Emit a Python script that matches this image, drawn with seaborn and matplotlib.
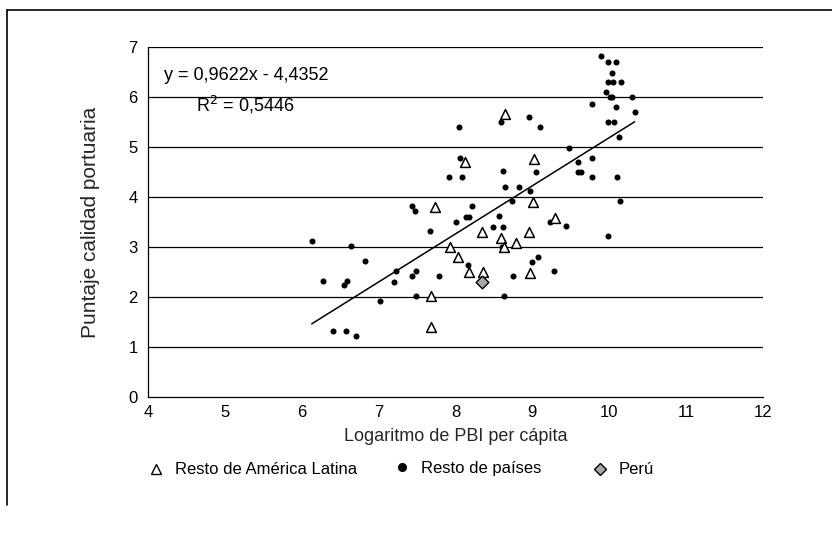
import matplotlib
matplotlib.use("Agg")
import numpy as np
import pandas as pd
import seaborn as sns
import matplotlib.pyplot as plt
from matplotlib.lines import Line2D
from matplotlib import font_manager

# --- data -------------------------------------------------------------
# Resto de países: (log PBI per cápita, puntaje)
resto_x = [7.91, 8.08, 7.43, 7.47, 8.21, 8.14, 8.18, 8.00, 7.67, 6.13,
           6.64, 6.82, 7.22, 7.48, 6.28, 6.59, 6.55, 7.20, 7.44, 7.79,
           8.16, 7.49, 7.02, 6.41, 6.57, 6.70,
           8.64, 8.82, 8.97, 8.74, 8.56, 8.49, 8.62, 9.23, 8.60, 8.75,
           9.00, 9.07, 9.28, 8.63,
           9.77, 8.59, 8.95, 9.10, 9.47, 9.59, 9.77, 9.59, 9.63, 9.77,
           8.62, 9.05, 9.44,
           9.89, 9.99, 10.09, 10.04, 9.99, 10.05, 10.15, 9.96, 10.01, 10.04,
           10.30, 10.09, 10.33, 9.99, 10.06, 10.13, 10.10, 10.14, 9.99,
           8.04, 8.06]
resto_y = [4.41, 4.41, 3.83, 3.73, 3.82, 3.61, 3.61, 3.51, 3.32, 3.12,
           3.03, 2.73, 2.52, 2.52, 2.33, 2.33, 2.24, 2.31, 2.43, 2.43,
           2.64, 2.03, 1.92, 1.33, 1.33, 1.22,
           4.21, 4.21, 4.12, 3.93, 3.62, 3.41, 3.41, 3.50, 3.01, 2.43,
           2.71, 2.81, 2.52, 2.02,
           5.87, 5.50, 5.61, 5.41, 4.99, 4.71, 4.78, 4.51, 4.51, 4.40,
           4.52, 4.51, 3.42,
           6.82, 6.70, 6.70, 6.49, 6.30, 6.30, 6.30, 6.10, 6.01, 6.01,
           6.01, 5.81, 5.70, 5.51, 5.51, 5.20, 4.41, 3.93, 3.22,
           5.41, 4.79]

# Resto de América Latina
latam_x = [7.73, 8.35, 7.93, 8.03, 8.17, 8.36, 7.68, 7.68, 8.12, 8.64,
           9.02, 9.01, 8.59, 8.96, 9.30, 8.63, 8.79, 8.97]
latam_y = [3.81, 3.30, 3.01, 2.81, 2.50, 2.50, 2.02, 1.41, 4.69, 5.67,
           4.77, 3.90, 3.19, 3.30, 3.59, 3.00, 3.09, 2.49]

# Perú
peru_x = [8.35]
peru_y = [2.30]

# Regression line y = a*x + b
slope = 0.9622
intercept = -4.4352
r2 = 0.5446

x_ticks = [4, 5, 6, 7, 8, 9, 10, 11, 12]
y_ticks = [0, 1, 2, 3, 4, 5, 6, 7]

x_label = "Logaritmo de PBI per cápita"
y_label = "Puntaje calidad portuaria"
legend_labels = ["Resto de América Latina", "Resto de países", "Perú"]

# --- style ------------------------------------------------------------
sns.set_theme(style="white")
available = {f.name for f in font_manager.fontManager.ttflist}
families = [f for f in ["Liberation Sans Narrow", "Liberation Sans", "DejaVu Sans"]
            if f in available]
plt.rcParams["font.family"] = families
plt.rcParams["text.color"] = "black"

fig = plt.figure(figsize=(8.32, 5.39), dpi=100)
fig.patch.set_facecolor("white")
ax = fig.add_axes([148 / 832, 1 - 397 / 539, (763 - 148) / 832, (397 - 47) / 539])
ax.set_facecolor("white")

# horizontal grid lines
for yv in y_ticks[1:]:
    ax.axhline(yv, color="black", lw=0.9, zorder=1)

df_resto = pd.DataFrame({"x": resto_x, "y": resto_y})
df_latam = pd.DataFrame({"x": latam_x, "y": latam_y})
df_peru = pd.DataFrame({"x": peru_x, "y": peru_y})

sns.scatterplot(data=df_resto, x="x", y="y", ax=ax, marker="o", s=19,
                color="black", edgecolor="black", linewidth=0, zorder=3)
sns.scatterplot(data=df_latam, x="x", y="y", ax=ax, marker="^", s=50,
                facecolor="white", edgecolor="black", linewidth=1.1, zorder=4)
sns.scatterplot(data=df_peru, x="x", y="y", ax=ax, marker="D", s=42,
                facecolor="#a8a8a8", edgecolor="black", linewidth=1.0, zorder=5)

# trend line over the range of all observations
all_x = np.array(resto_x + latam_x + peru_x)
line_x = np.array([all_x.min(), all_x.max()])
df_line = pd.DataFrame({"x": line_x, "y": slope * line_x + intercept})
sns.lineplot(data=df_line, x="x", y="y", ax=ax, color="black", lw=1.1, zorder=2)

def fmt(v):
    return f"{v:.4f}".replace(".", ",")

sign = "-" if intercept < 0 else "+"
ax.text(4.21, 6.44, f"y = {fmt(slope)}x {sign} {fmt(abs(intercept))}",
        fontsize=13, va="center", ha="left")
ax.text(4.62, 5.84, f"R$^2$ = {fmt(r2)}", fontsize=13, va="center", ha="left")

ax.set_xlim(4, 12)
ax.set_ylim(0, 7)
ax.set_xticks(x_ticks)
ax.set_yticks(y_ticks)
ax.set_xticklabels([str(v) for v in x_ticks])
ax.set_yticklabels([str(v) for v in y_ticks])
ax.tick_params(axis="both", direction="inout", length=7, width=0.9,
               color="black", labelsize=12, labelcolor="black")
ax.tick_params(axis="x", pad=2)
ax.tick_params(axis="y", pad=4)
for side in ["top", "right"]:
    ax.spines[side].set_visible(False)
for side in ["left", "bottom"]:
    ax.spines[side].set_color("black")
    ax.spines[side].set_linewidth(0.9)

ax.set_xlabel(x_label, fontsize=13, labelpad=6)
ax.set_ylabel(y_label, fontsize=15, labelpad=20)

# legend entries laid out along one row below the axis title
handles = [
    Line2D([], [], ls="none", marker="^", ms=7, mfc="white", mec="black", mew=1.0),
    Line2D([], [], ls="none", marker="o", ms=5.5, mfc="black", mec="black"),
    Line2D([], [], ls="none", marker="D", ms=6, mfc="#a8a8a8", mec="black", mew=1.0),
]
legend_x = [148, 394, 592]
legend_row = [470, 468.5, 470]
for h, lab, lx, ly in zip(handles, legend_labels, legend_x, legend_row):
    fig.legend(handles=[h], labels=[lab], loc="center left",
               bbox_to_anchor=(lx / 832, 1 - ly / 539), frameon=False,
               handlelength=1.0, handletextpad=0.6, borderpad=0,
               borderaxespad=0, fontsize=12)

# frame lines around the figure
fig.add_artist(Line2D([7 / 832, 1.0], [1 - 10 / 539, 1 - 10 / 539],
                      transform=fig.transFigure, color="black", lw=1.2))
fig.add_artist(Line2D([7 / 832, 7 / 832], [1 - 10 / 539, 1 - 505 / 539],
                      transform=fig.transFigure, color="black", lw=1.2))

fig.savefig("out.png", dpi=100, facecolor="white")
